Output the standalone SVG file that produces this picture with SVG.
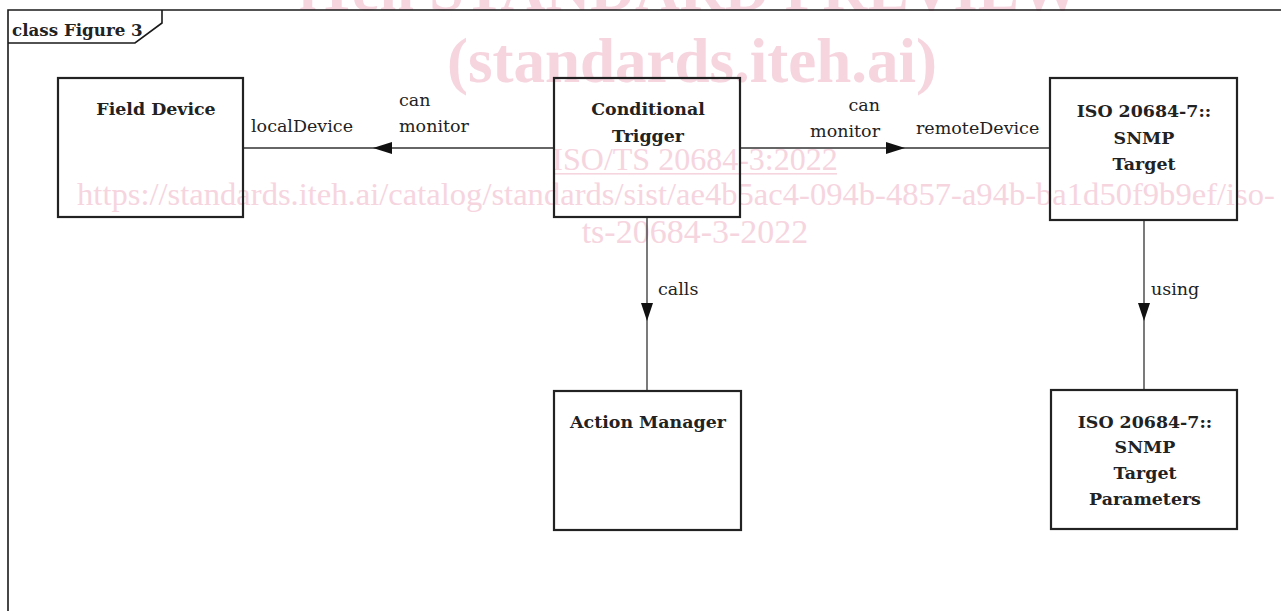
<svg xmlns="http://www.w3.org/2000/svg" width="1281" height="611" viewBox="0 0 1281 611">
  <style>
    .wm { font-family: "Liberation Serif", "Times New Roman", serif; fill: #f6d5df; }
    .wmb { font-weight: bold; }
    .frame { fill: none; stroke: #1a1a1a; stroke-width: 1.6; }
    .box { fill: none; stroke: #222; stroke-width: 2.2; }
    .edge { fill: none; stroke: #333; stroke-width: 1.3; }
    .head { fill: #111; stroke: none; }
    .title { font-family: "DejaVu Serif", "Liberation Serif", serif; font-weight: bold; font-size: 16.7px; fill: #222; }
    .name { font-family: "DejaVu Serif", "Liberation Serif", serif; font-weight: bold; font-size: 17.4px; fill: #222; text-anchor: middle; }
    .lbl { font-family: "DejaVu Serif", "Liberation Serif", serif; font-size: 17.5px; fill: #222; }
  </style>

  <rect x="0" y="0" width="1281" height="611" fill="#ffffff"/>

  <!-- publisher watermark -->
  <g id="watermark" class="wm">
    <text class="wmb" x="690" y="10" font-size="62" text-anchor="middle">iTeh STANDARD PREVIEW</text>
    <text class="wmb" x="692" y="82" font-size="63" text-anchor="middle">(standards.iteh.ai)</text>
    <text x="695" y="170" font-size="32" text-anchor="middle">ISO/TS 20684-3:2022</text>
    <rect x="553" y="173" width="284" height="1.6"/>
    <text x="676" y="205" font-size="32.6" text-anchor="middle">https://standards.iteh.ai/catalog/standards/sist/ae4b5ac4-094b-4857-a94b-ba1d50f9b9ef/iso-</text>
    <text x="695" y="243" font-size="34" text-anchor="middle">ts-20684-3-2022</text>
  </g>

  <!-- diagram frame with name tab -->
  <g id="frame">
    <path class="frame" d="M1281,10 H8 V611"/>
    <path class="frame" d="M8,43 H135 L162,23 V10"/>
    <text class="title" x="12" y="36">class Figure 3</text>
  </g>

  <!-- connectors -->
  <g id="connectors">
    <line class="edge" x1="243" y1="148" x2="554" y2="148"/>
    <polygon class="head" points="373,148 392,142 392,154"/>
    <text class="lbl" x="399" y="106">can</text>
    <text class="lbl" x="399" y="132">monitor</text>
    <text class="lbl" x="251" y="132">localDevice</text>

    <line class="edge" x1="740" y1="148" x2="1050" y2="148"/>
    <polygon class="head" points="905,148 886,142 886,154"/>
    <text class="lbl" x="880" y="111" text-anchor="end">can</text>
    <text class="lbl" x="880" y="137" text-anchor="end">monitor</text>
    <text class="lbl" x="916" y="134">remoteDevice</text>

    <line class="edge" x1="647" y1="217" x2="647" y2="391"/>
    <polygon class="head" points="647,321 641,303 653,303"/>
    <text class="lbl" x="658" y="295">calls</text>

    <line class="edge" x1="1144" y1="220" x2="1144" y2="390"/>
    <polygon class="head" points="1144,321 1138,303 1150,303"/>
    <text class="lbl" x="1151" y="295">using</text>
  </g>

  <g id="field-device">
    <rect class="box" x="58" y="78" width="185" height="139"/>
    <text class="name" x="156" y="115">Field Device</text>
  </g>

  <g id="conditional-trigger">
    <rect class="box" x="554" y="78" width="186" height="139"/>
    <text class="name" x="648" y="115">Conditional</text>
    <text class="name" x="648" y="142">Trigger</text>
  </g>

  <g id="snmp-target">
    <rect class="box" x="1050" y="78" width="187" height="142"/>
    <text class="name" x="1144" y="117">ISO 20684-7::</text>
    <text class="name" x="1144" y="144">SNMP</text>
    <text class="name" x="1144" y="170">Target</text>
  </g>

  <g id="action-manager">
    <rect class="box" x="554" y="391" width="187" height="139"/>
    <text class="name" x="648" y="428">Action Manager</text>
  </g>

  <g id="snmp-target-parameters">
    <rect class="box" x="1051" y="390" width="186" height="139"/>
    <text class="name" x="1145" y="428">ISO 20684-7::</text>
    <text class="name" x="1145" y="453">SNMP</text>
    <text class="name" x="1145" y="479">Target</text>
    <text class="name" x="1145" y="505">Parameters</text>
  </g>
</svg>
